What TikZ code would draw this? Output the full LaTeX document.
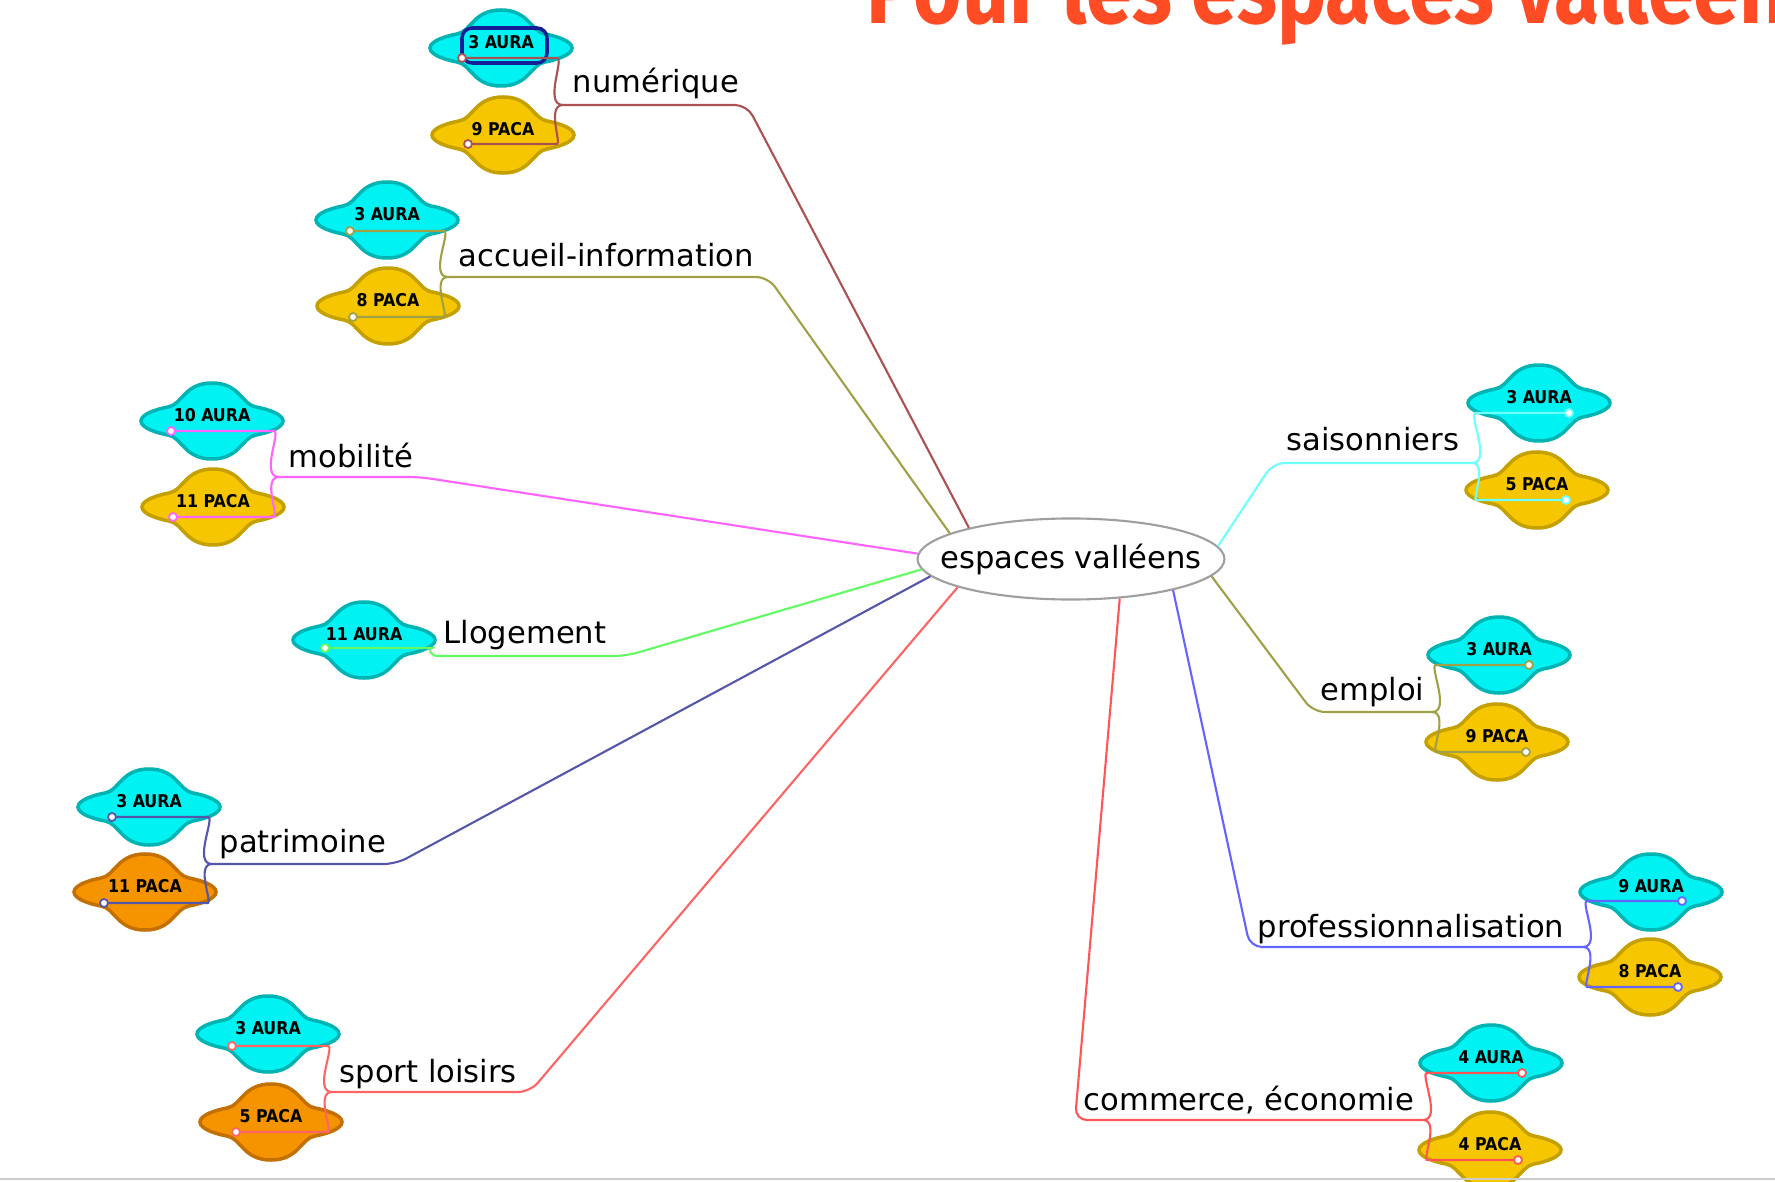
\documentclass[tikz,border=0pt]{standalone}
\usepackage{fontspec}
\setmainfont{DejaVu Sans}
\newfontfamily\tagfont{DejaVu Sans Condensed}
\newfontfamily\titlefont[FakeStretch=0.84]{Fira Sans}
\usepackage{xcolor}
\usepackage{tikz}
\usetikzlibrary{shapes.geometric}

\definecolor{numcol}{RGB}{170,82,82}
\definecolor{acccol}{RGB}{160,160,70}
\definecolor{mobcol}{RGB}{255,100,255}
\definecolor{logcol}{RGB}{100,250,100}
\definecolor{patcol}{RGB}{85,85,170}
\definecolor{spocol}{RGB}{255,100,100}
\definecolor{saicol}{RGB}{110,255,255}
\definecolor{empcol}{RGB}{160,160,70}
\definecolor{procol}{RGB}{100,100,255}
\definecolor{comcol}{RGB}{255,85,85}
\definecolor{aurafill}{RGB}{0,242,242}
\definecolor{auraline}{RGB}{0,180,180}
\definecolor{pacafill}{RGB}{246,198,0}
\definecolor{pacaline}{RGB}{196,160,0}
\definecolor{pacaorfill}{RGB}{246,148,0}
\definecolor{pacaorline}{RGB}{196,112,0}
\definecolor{titlered}{RGB}{255,76,36}
\definecolor{selblue}{RGB}{20,30,150}

% name, position, look, text
\newcommand\saucer[4]{%
  \begin{scope}[shift={(#2)}]
    \draw[#3] (-71,0) .. controls (-71,-7) and (-55,-12) .. (-44,-14)
      .. controls (-30,-16) and (-28,-38) .. (0,-38)
      .. controls (28,-38) and (30,-16) .. (44,-14)
      .. controls (55,-12) and (71,-7) .. (71,0)
      .. controls (71,7) and (55,12) .. (44,14)
      .. controls (30,16) and (28,38) .. (0,38)
      .. controls (-28,38) and (-30,16) .. (-44,14)
      .. controls (-55,12) and (-71,7) .. (-71,0) -- cycle;
    \node[tag] (#1) at (0,-6) {#4};
  \end{scope}}

\begin{document}
\begin{tikzpicture}[x=0.01cm, y=-0.01cm,
    aura/.style={fill=aurafill, draw=auraline, line width=1pt},
    paca/.style={fill=pacafill, draw=pacaline, line width=1pt},
    pacaor/.style={fill=pacaorfill, draw=pacaorline, line width=1pt},
    tag/.style={font=\tagfont\bfseries\fontsize{5pt}{6pt}\selectfont, inner sep=0pt},
    lbl/.style={font=\fontsize{8.7pt}{10pt}\selectfont, inner sep=0pt, anchor=base west},
    link/.style={line width=0.6pt, rounded corners=0.12cm},
    dot/.style={circle, fill=white, draw, line width=0.5pt, inner sep=0pt, minimum size=0.08cm}]
  \clip (0,0) rectangle (1775,1182);
  \fill[white] (0,0) rectangle (1775,1182);

  \node[font=\titlefont\bfseries\fontsize{28pt}{30pt}\selectfont, text=titlered, anchor=base west, inner sep=0pt] (ttl) at (866,24) {Pour les espaces valléens};

  \node[ellipse, draw=gray!75, line width=0.6pt, fill=white, minimum width=3.03cm, minimum height=0.81cm, inner xsep=-0.22cm, inner ysep=0pt, font=\fontsize{8.7pt}{10pt}\selectfont] (ctr) at (1071,559) {espaces valléens};

  % left side
  \saucer{num-a}{501,48}{aura}{3 AURA}
  \saucer{num-b}{503,135}{paca}{9 PACA}
  \draw[selblue, line width=1pt, rounded corners=0.1cm] (462,28) rectangle (547,63);
  \node[lbl] (num) at (572,93) {numérique};
  \coordinate (num-bend) at (747,105);
  \coordinate (num-fork) at (563,105);
  \coordinate (num-ta) at (545,58);
  \coordinate (num-tb) at (545,144);

  \saucer{acc-a}{387,220}{aura}{3 AURA}
  \saucer{acc-b}{388,306}{paca}{8 PACA}
  \node[lbl] (acc) at (458,267) {accueil-information};
  \coordinate (acc-bend) at (768,277);
  \coordinate (acc-fork) at (448,277);
  \coordinate (acc-ta) at (432,231);
  \coordinate (acc-tb) at (432,317);

  \saucer{mob-a}{212,421}{aura}{10 AURA}
  \saucer{mob-b}{213,507}{paca}{11 PACA}
  \node[lbl] (mob) at (288,468) {mobilité};
  \coordinate (mob-bend) at (420,477);
  \coordinate (mob-fork) at (279,477);
  \coordinate (mob-ta) at (262,431);
  \coordinate (mob-tb) at (262,517);

  \saucer{log-a}{364,640}{aura}{11 AURA}
  \node[lbl] (log) at (443,643) {Llogement};
  \coordinate (log-bend) at (626,656);
  \coordinate (log-fork) at (438,656);
  \coordinate (log-ta) at (420,648);

  \saucer{pat-a}{149,807}{aura}{3 AURA}
  \saucer{pat-b}{145,892}{pacaor}{11 PACA}
  \node[lbl] (pat) at (219,852) {patrimoine};
  \coordinate (pat-bend) at (396,864);
  \coordinate (pat-fork) at (212,864);
  \coordinate (pat-ta) at (196,817);
  \coordinate (pat-tb) at (196,903);

  \saucer{spo-a}{268,1034}{aura}{3 AURA}
  \saucer{spo-b}{271,1122}{pacaor}{5 PACA}
  \node[lbl] (spo) at (339,1082) {sport loisirs};
  \coordinate (spo-bend) at (530,1092);
  \coordinate (spo-fork) at (332,1092);
  \coordinate (spo-ta) at (316,1046);
  \coordinate (spo-tb) at (316,1132);

  % right side
  \saucer{sai-a}{1539,403}{aura}{3 AURA}
  \saucer{sai-b}{1537,490}{paca}{5 PACA}
  \node[lbl] (sai) at (1286,450) {saisonniers};
  \coordinate (sai-bend) at (1273,463);
  \coordinate (sai-fork) at (1472,463);
  \coordinate (sai-ta) at (1488,413);
  \coordinate (sai-tb) at (1488,500);

  \saucer{emp-a}{1499,655}{aura}{3 AURA}
  \saucer{emp-b}{1497,742}{paca}{9 PACA}
  \node[lbl] (emp) at (1320,700) {emploi};
  \coordinate (emp-bend) at (1313,712);
  \coordinate (emp-fork) at (1432,712);
  \coordinate (emp-ta) at (1448,665);
  \coordinate (emp-tb) at (1448,752);

  \saucer{pro-a}{1651,892}{aura}{9 AURA}
  \saucer{pro-b}{1650,977}{paca}{8 PACA}
  \node[lbl] (pro) at (1257,937) {professionnalisation};
  \coordinate (pro-bend) at (1250,947);
  \coordinate (pro-fork) at (1583,947);
  \coordinate (pro-ta) at (1599,901);
  \coordinate (pro-tb) at (1599,987);

  \saucer{com-a}{1491,1063}{aura}{4 AURA}
  \saucer{com-b}{1490,1150}{paca}{4 PACA}
  \node[lbl] (com) at (1083,1110) {commerce, économie};
  \coordinate (com-bend) at (1075,1120);
  \coordinate (com-fork) at (1423,1120);
  \coordinate (com-ta) at (1439,1073);
  \coordinate (com-tb) at (1439,1160);

  \coordinate (num-a-dot) at (462,58);
  \coordinate (num-b-dot) at (468,144);
  \coordinate (acc-a-dot) at (350,231);
  \coordinate (acc-b-dot) at (353,317);
  \coordinate (mob-a-dot) at (171,431);
  \coordinate (mob-b-dot) at (173,517);
  \coordinate (log-a-dot) at (325,648);
  \coordinate (pat-a-dot) at (112,817);
  \coordinate (pat-b-dot) at (104,903);
  \coordinate (spo-a-dot) at (232,1046);
  \coordinate (spo-b-dot) at (236,1132);
  \coordinate (sai-a-dot) at (1569,413);
  \coordinate (sai-b-dot) at (1566,500);
  \coordinate (emp-a-dot) at (1529,665);
  \coordinate (emp-b-dot) at (1526,752);
  \coordinate (pro-a-dot) at (1682,901);
  \coordinate (pro-b-dot) at (1678,987);
  \coordinate (com-a-dot) at (1522,1073);
  \coordinate (com-b-dot) at (1518,1160);

  \draw[link, numcol] (ctr.163) -- (num-bend) -- (num-fork);
  \draw[link, numcol] (num-fork) to[out=180,in=0] (num-ta) -- (num-a-dot);
  \draw[link, numcol] (num-fork) to[out=180,in=0] (num-tb) -- (num-b-dot);
  \draw[link, acccol] (ctr.168) -- (acc-bend) -- (acc-fork);
  \draw[link, acccol] (acc-fork) to[out=180,in=0] (acc-ta) -- (acc-a-dot);
  \draw[link, acccol] (acc-fork) to[out=180,in=0] (acc-tb) -- (acc-b-dot);
  \draw[link, mobcol] (ctr.178) -- (mob-bend) -- (mob-fork);
  \draw[link, mobcol] (mob-fork) to[out=180,in=0] (mob-ta) -- (mob-a-dot);
  \draw[link, mobcol] (mob-fork) to[out=180,in=0] (mob-tb) -- (mob-b-dot);
  \draw[link, logcol] (ctr.184) -- (log-bend) -- (log-fork);
  \draw[link, logcol] (log-fork) to[out=180,in=0] (log-ta) -- (log-a-dot);
  \draw[link, patcol] (ctr.187) -- (pat-bend) -- (pat-fork);
  \draw[link, patcol] (pat-fork) to[out=180,in=0] (pat-ta) -- (pat-a-dot);
  \draw[link, patcol] (pat-fork) to[out=180,in=0] (pat-tb) -- (pat-b-dot);
  \draw[link, spocol] (ctr.194) -- (spo-bend) -- (spo-fork);
  \draw[link, spocol] (spo-fork) to[out=180,in=0] (spo-ta) -- (spo-a-dot);
  \draw[link, spocol] (spo-fork) to[out=180,in=0] (spo-tb) -- (spo-b-dot);
  \draw[link, saicol] (ctr.5) -- (sai-bend) -- (sai-fork);
  \draw[link, saicol] (sai-fork) to[out=0,in=180] (sai-ta) -- (sai-a-dot);
  \draw[link, saicol] (sai-fork) to[out=0,in=180] (sai-tb) -- (sai-b-dot);
  \draw[link, empcol] (ctr.353) -- (emp-bend) -- (emp-fork);
  \draw[link, empcol] (emp-fork) to[out=0,in=180] (emp-ta) -- (emp-a-dot);
  \draw[link, empcol] (emp-fork) to[out=0,in=180] (emp-tb) -- (emp-b-dot);
  \draw[link, procol] (ctr.343) -- (pro-bend) -- (pro-fork);
  \draw[link, procol] (pro-fork) to[out=0,in=180] (pro-ta) -- (pro-a-dot);
  \draw[link, procol] (pro-fork) to[out=0,in=180] (pro-tb) -- (pro-b-dot);
  \draw[link, comcol] (ctr.321) -- (com-bend) -- (com-fork);
  \draw[link, comcol] (com-fork) to[out=0,in=180] (com-ta) -- (com-a-dot);
  \draw[link, comcol] (com-fork) to[out=0,in=180] (com-tb) -- (com-b-dot);

  \node[dot, draw=numcol] at (num-a-dot) {};
  \node[dot, draw=numcol] at (num-b-dot) {};
  \node[dot, draw=acccol] at (acc-a-dot) {};
  \node[dot, draw=acccol] at (acc-b-dot) {};
  \node[dot, draw=mobcol] at (mob-a-dot) {};
  \node[dot, draw=mobcol] at (mob-b-dot) {};
  \node[dot, draw=logcol] at (log-a-dot) {};
  \node[dot, draw=patcol] at (pat-a-dot) {};
  \node[dot, draw=patcol] at (pat-b-dot) {};
  \node[dot, draw=spocol] at (spo-a-dot) {};
  \node[dot, draw=spocol] at (spo-b-dot) {};
  \node[dot, draw=saicol] at (sai-a-dot) {};
  \node[dot, draw=saicol] at (sai-b-dot) {};
  \node[dot, draw=empcol] at (emp-a-dot) {};
  \node[dot, draw=empcol] at (emp-b-dot) {};
  \node[dot, draw=procol] at (pro-a-dot) {};
  \node[dot, draw=procol] at (pro-b-dot) {};
  \node[dot, draw=comcol] at (com-a-dot) {};
  \node[dot, draw=comcol] at (com-b-dot) {};

  \draw[gray!40, line width=0.8pt] (0,1179) -- (1775,1179);
\end{tikzpicture}
\end{document}
